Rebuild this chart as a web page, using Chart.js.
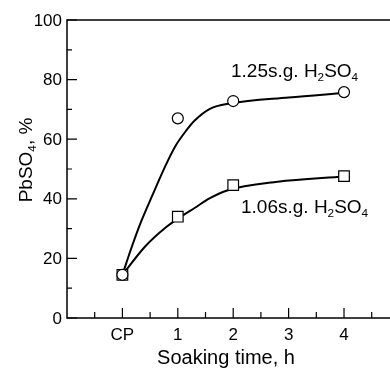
<!DOCTYPE html>
<html><head><meta charset="utf-8">
<script src="https://cdn.jsdelivr.net/npm/chart.js@4"></script>
<style>html,body{margin:0;padding:0;background:#fff}#wrap{width:390px;height:371px;position:relative}</style>
</head><body><div id="wrap"><canvas id="c"></canvas></div>
<script>
// x tick labels (category positions on the numeric time axis)
const categories = ['CP', '1', '2', '3', '4'];
const categoryX = [0, 1, 2, 3, 4];
const minorX = [-0.5, 0.5, 1.5, 2.5, 3.5, 4.5];
const yTicks = [0, 20, 40, 60, 80, 100];
const yMinor = [10, 30, 50, 70, 90];

// measured points
const soakX = [0, 1, 2, 4];
const pb125 = [14.5, 67, 72.8, 75.8];
const pb106 = [14.5, 34, 44.6, 47.6];

// fitted curves
const fit125X = [0, 0.17, 0.35, 0.53, 0.77, 0.95, 1.16, 1.3, 1.58, 1.95, 3, 4];
const fit125Y = [14.5, 23.9, 32.9, 40.7, 50.8, 57.5, 63.1, 66.2, 70.2, 72, 74, 75.5];
const fit106X = [0, 0.41, 0.77, 1, 1.31, 1.58, 1.89, 2.8, 4];
const fit106Y = [14.5, 24, 30.2, 33.3, 37, 40.2, 42.8, 45.7, 47.5];

const FONT = '"Liberation Sans", Arial, Helvetica, sans-serif';
const pts = (xs, ys) => xs.map((x, i) => ({x: x, y: ys[i]}));

function subText(ctx, parts, x, y, size, align) {
  let w = 0;
  parts.forEach(p => { ctx.font = (p[1] ? size * 0.62 : size) + 'px ' + FONT; w += ctx.measureText(p[0]).width; });
  let cx = align === 'center' ? x - w / 2 : x;
  ctx.textAlign = 'left';
  ctx.textBaseline = 'alphabetic';
  parts.forEach(p => {
    ctx.font = (p[1] ? size * 0.62 : size) + 'px ' + FONT;
    ctx.fillText(p[0], cx, y + (p[1] ? size * 0.22 : 0));
    cx += ctx.measureText(p[0]).width;
  });
}

const axesPlugin = {
  id: 'axesPlugin',
  beforeDatasetsDraw(chart) {
    const {ctx, chartArea: a, scales: {x, y}} = chart;
    ctx.save();
    ctx.strokeStyle = '#000';
    ctx.lineWidth = 1.5;
    ctx.beginPath();
    ctx.moveTo(a.right, a.top); ctx.lineTo(a.left, a.top);
    ctx.lineTo(a.left, a.bottom); ctx.lineTo(a.right, a.bottom);
    ctx.stroke();
    ctx.lineWidth = 1.2;
    ctx.beginPath();
    yTicks.forEach(v => { const py = y.getPixelForValue(v); ctx.moveTo(a.left, py); ctx.lineTo(a.left + 10, py); });
    yMinor.forEach(v => { const py = y.getPixelForValue(v); ctx.moveTo(a.left, py); ctx.lineTo(a.left + 5, py); });
    categoryX.forEach(v => { const px = x.getPixelForValue(v); ctx.moveTo(px, a.bottom); ctx.lineTo(px, a.bottom - 10); });
    minorX.forEach(v => { const px = x.getPixelForValue(v); ctx.moveTo(px, a.bottom); ctx.lineTo(px, a.bottom - 6); });
    ctx.stroke();
    ctx.restore();
  },
  afterDraw(chart) {
    const {ctx, chartArea: a, scales: {x, y}} = chart;
    ctx.save();
    ctx.fillStyle = '#000';
    ctx.font = '17px ' + FONT;
    ctx.textAlign = 'right'; ctx.textBaseline = 'middle';
    yTicks.forEach(v => ctx.fillText(String(v), a.left - 5, y.getPixelForValue(v) + 1));
    ctx.textAlign = 'center'; ctx.textBaseline = 'top';
    categories.forEach((c, i) => ctx.fillText(c, x.getPixelForValue(categoryX[i]), a.bottom + 9));
    ctx.font = '20px ' + FONT;
    ctx.textBaseline = 'alphabetic';
    ctx.fillText('Soaking time, h', 226, 364);
    ctx.save();
    ctx.translate(32, 160);
    ctx.rotate(-Math.PI / 2);
    subText(ctx, [['PbSO', false], ['4', true], [', %', false]], 0, 0, 19, 'center');
    ctx.restore();
    subText(ctx, [['1.25s.g. H', false], ['2', true], ['SO', false], ['4', true]], 231, 77, 19, 'left');
    subText(ctx, [['1.06s.g. H', false], ['2', true], ['SO', false], ['4', true]], 241, 213, 19, 'left');
    ctx.restore();
  }
};

new Chart(document.getElementById('c'), {
  type: 'scatter',
  data: {
    datasets: [
      {data: pts(fit125X, fit125Y), showLine: true, cubicInterpolationMode: 'monotone', borderColor: '#000', borderWidth: 2, pointRadius: 0, order: 2},
      {data: pts(fit106X, fit106Y), showLine: true, cubicInterpolationMode: 'monotone', borderColor: '#000', borderWidth: 2, pointRadius: 0, order: 2},
      {data: pts(soakX, pb125), showLine: false, pointStyle: 'circle', pointRadius: 5.5, borderColor: '#000', backgroundColor: '#fff', borderWidth: 1.2, order: 1},
      {data: pts(soakX, pb106), showLine: false, pointStyle: 'rect', pointRadius: 7.5, borderColor: '#000', backgroundColor: '#fff', borderWidth: 1.2, order: 1}
    ]
  },
  options: {
    responsive: true, maintainAspectRatio: false, animation: false,
    layout: {autoPadding: false, padding: {left: 67, top: 20, right: 0, bottom: 53}},
    plugins: {legend: {display: false}, tooltip: {enabled: false}},
    scales: {
      x: {type: 'linear', display: false, min: -1, max: 4.83},
      y: {type: 'linear', display: false, min: 0, max: 100}
    }
  },
  plugins: [axesPlugin]
});
</script></body></html>
